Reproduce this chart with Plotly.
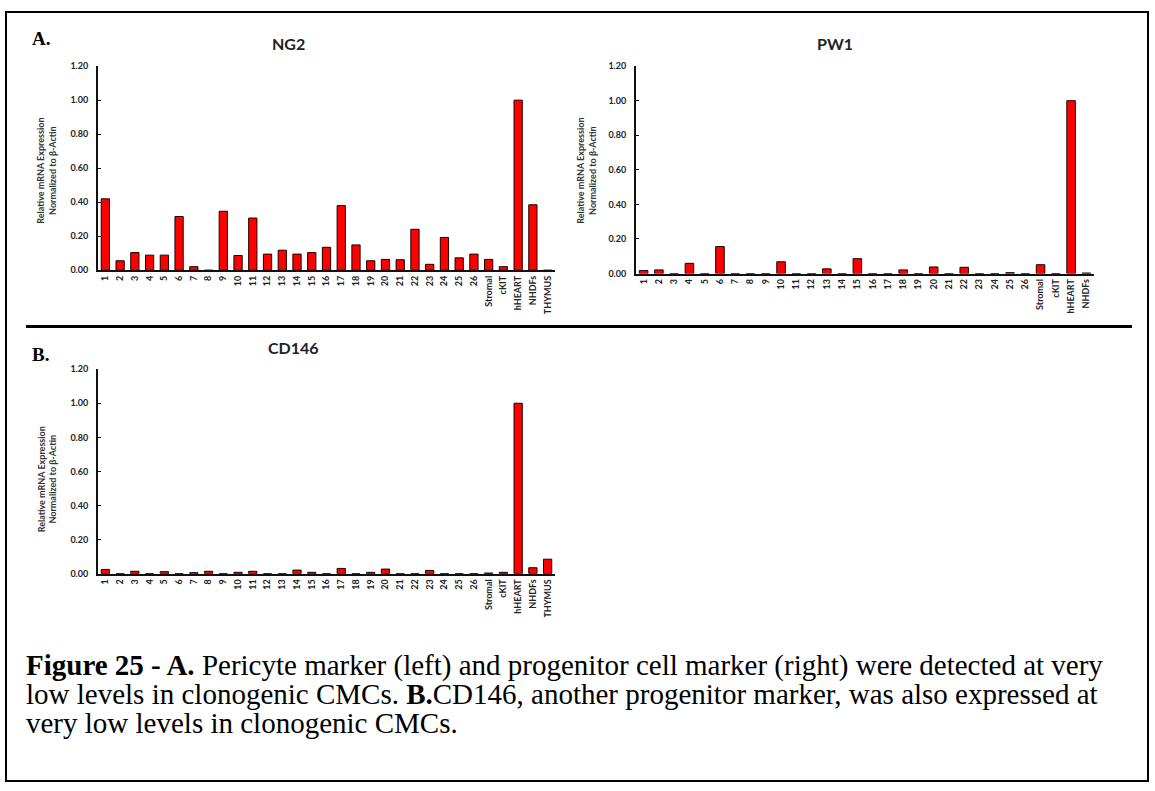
import plotly.graph_objects as go

W, H = 1155, 791

cats_full = [str(i) for i in range(1, 27)] + ["Stromal", "cKIT", "hHEART", "NHDFs", "THYMUS"]
cats_pw1 = [str(i) for i in range(1, 27)] + ["Stromal", "cKIT", "hHEART", "NHDFs"]

ng2 = [0.42, 0.056, 0.104, 0.089, 0.089, 0.316, 0.021, 0.0, 0.347, 0.087,
       0.307, 0.095, 0.118, 0.095, 0.104, 0.135, 0.38, 0.149, 0.056, 0.064,
       0.062, 0.241, 0.035, 0.193, 0.073, 0.095, 0.064, 0.021, 1.0, 0.385, 0.0]

pw1 = [0.017, 0.021, 0.0, 0.059, 0.0, 0.156, 0.0, 0.0, 0.0, 0.068,
       0.0, 0.0, 0.027, 0.0, 0.086, 0.0, 0.0, 0.021, 0.0, 0.038,
       0.0, 0.036, 0.0, 0.0, 0.005, 0.0, 0.051, 0.0, 1.0, 0.003]

cd146 = [0.025, 0.0, 0.014, 0.0, 0.012, 0.0, 0.006, 0.014, 0.0, 0.008,
         0.014, 0.0, 0.0, 0.021, 0.008, 0.0, 0.031, 0.0, 0.008, 0.027,
         0.0, 0.0, 0.019, 0.0, 0.0, 0.0, 0.004, 0.008, 1.0, 0.035, 0.085]

y_ticks = [0.0, 0.2, 0.4, 0.6, 0.8, 1.0, 1.2]
y_title = "Relative mRNA Expression<br>Normalized to β-Actin"

FONT = "Lato"
TXT = "#222222"


def px(x):
    return x / W


def py(y):
    return 1 - y / H


fig = go.Figure()

panels = [
    # name, cats, values, xaxis id, x0, x1, y_zero, y_top
    ("NG2", cats_full, ng2, "", 98, 555, 268, 61),
    ("PW1", cats_pw1, pw1, "2", 636, 1094, 271.3, 61),
    ("CD146", cats_full, cd146, "3", 98, 555, 575.7, 368.3),
]

for name, cats, vals, ax, x0, x1, yz, yt in panels:
    fig.add_trace(go.Bar(
        x=cats, y=vals, name=name,
        xaxis="x" + ax, yaxis="y" + ax,
        marker=dict(color="#ff0000", line=dict(color="#1a0000", width=1)),
        showlegend=False,
    ))
    xa = dict(
        domain=[px(x0), px(x1)], anchor="y" + ax, type="category",
        categoryorder="array", categoryarray=cats,
        showline=True, linecolor="#111111", linewidth=2,
        ticks="", tickangle=-90, showgrid=False, zeroline=False,
        tickfont=dict(family=FONT, size=9, color=TXT, weight="bold"),
        fixedrange=True,
    )
    ya = dict(
        domain=[py(yz), py(yt)], anchor="x" + ax, range=[0, 1.2],
        tickvals=y_ticks, tickformat=".2f",
        showline=True, linecolor="#111111", linewidth=2,
        ticks="inside", ticklen=3, tickcolor="#111111", tickwidth=1,
        ticklabelstandoff=6,
        showgrid=False, zeroline=False,
        tickfont=dict(family=FONT, size=9, color=TXT, weight="bold"),
        fixedrange=True,
    )
    fig.update_layout(**{"xaxis" + ax: xa, "yaxis" + ax: ya})

annotations = []

# Chart titles
for txt, cx, cy in [("NG2", 288, 38.5), ("PW1", 834.5, 38.5), ("CD146", 294, 346)]:
    annotations.append(dict(
        text=txt, x=px(cx), y=py(cy), xref="paper", yref="paper",
        xanchor="center", yanchor="middle", showarrow=False,
        font=dict(family=FONT, size=16, color=TXT, weight="bold"),
    ))

# Y axis titles
for cx, cy in [(47, 167), (587, 167), (47, 480)]:
    annotations.append(dict(
        text=y_title, x=px(cx), y=py(cy), xref="paper", yref="paper",
        xanchor="center", yanchor="middle", showarrow=False, textangle=-90,
        font=dict(family=FONT, size=9, color="#333333", weight="bold"),
    ))

# Panel letters
for txt, cx, cy in [("A.", 41, 33), ("B.", 40, 353)]:
    annotations.append(dict(
        text=txt, x=px(cx), y=py(cy), xref="paper", yref="paper",
        xanchor="center", yanchor="middle", showarrow=False,
        font=dict(family="Liberation Serif", size=19, color="#000000", weight="bold"),
    ))

# Caption
caption_lines = [
    "<b>Figure 25 - A.</b> Pericyte marker (left) and progenitor cell marker (right) were detected at very",
    "low levels in clonogenic CMCs. <b>B.</b>CD146, another progenitor marker, was also expressed at",
    "very low levels in clonogenic CMCs.",
]
for i, line in enumerate(caption_lines):
    annotations.append(dict(
        text=line, x=px(24), y=py(669 + 29 * i), xref="paper", yref="paper",
        xanchor="left", yanchor="middle", showarrow=False, align="left",
        font=dict(family="Liberation Serif", size=29, color="#000000"),
    ))

shapes = [
    # outer border
    dict(type="rect", xref="paper", yref="paper",
         x0=px(6), x1=px(1148), y0=py(786), y1=py(6),
         line=dict(color="#000000", width=2)),
    # separator between A and B
    dict(type="line", xref="paper", yref="paper",
         x0=px(26), x1=px(1132), y0=py(325), y1=py(325),
         line=dict(color="#000000", width=3)),
]

fig.update_layout(
    width=W, height=H,
    margin=dict(l=0, r=0, t=0, b=0),
    paper_bgcolor="white", plot_bgcolor="white",
    bargap=0.44,
    annotations=annotations,
    shapes=shapes,
)

fig.write_html("out.html", config={"displayModeBar": False})
